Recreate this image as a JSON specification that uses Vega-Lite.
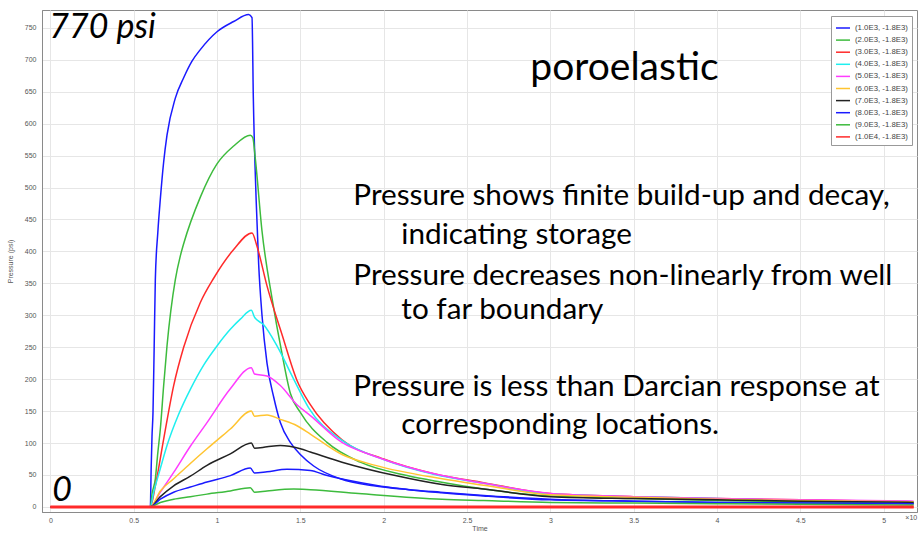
{
  "$schema": "https://vega.github.io/schema/vega-lite/v6.json",
  "width": 875,
  "height": 502,
  "autosize": {"type": "none"},
  "padding": {"left": 42, "top": 10, "right": 2, "bottom": 21},
  "background": "white",
  "config": {
    "view": {"stroke": "#8a8a8a", "strokeWidth": 1},
    "axis": {"labelFont": "Liberation Sans", "titleFont": "Liberation Sans", "labelFontSize": 7, "titleFontSize": 7, "labelColor": "#555555", "titleColor": "#555555", "titleFontWeight": "normal", "gridColor": "#e6e6e6", "domainColor": "#8a8a8a", "ticks": false, "labelOverlap": false},
    "axisY": {"labelOverlap": false},
    "axisQuantitative": {"labelOverlap": false},
    "text": {"font": "Lato", "align": "left", "baseline": "alphabetic", "color": "#000"}
  },
  "datasets": {
    "curves": [
      {"s":"(1.0E3, -1.8E3)","t":0,"p":0},{"s":"(1.0E3, -1.8E3)","t":0.6,"p":0},{"s":"(1.0E3, -1.8E3)","t":0.605,"p":60},{"s":"(1.0E3, -1.8E3)","t":0.61,"p":110},{"s":"(1.0E3, -1.8E3)","t":0.616,"p":148},{"s":"(1.0E3, -1.8E3)","t":0.623,"p":250},{"s":"(1.0E3, -1.8E3)","t":0.63,"p":356},{"s":"(1.0E3, -1.8E3)","t":0.645,"p":430},{"s":"(1.0E3, -1.8E3)","t":0.66,"p":482},{"s":"(1.0E3, -1.8E3)","t":0.68,"p":540},{"s":"(1.0E3, -1.8E3)","t":0.7,"p":582},{"s":"(1.0E3, -1.8E3)","t":0.75,"p":640},{"s":"(1.0E3, -1.8E3)","t":0.8,"p":672},{"s":"(1.0E3, -1.8E3)","t":0.85,"p":698},{"s":"(1.0E3, -1.8E3)","t":0.9,"p":716},{"s":"(1.0E3, -1.8E3)","t":1.0,"p":744},{"s":"(1.0E3, -1.8E3)","t":1.1,"p":760},{"s":"(1.0E3, -1.8E3)","t":1.19,"p":771},{"s":"(1.0E3, -1.8E3)","t":1.21,"p":766},{"s":"(1.0E3, -1.8E3)","t":1.218,"p":640},{"s":"(1.0E3, -1.8E3)","t":1.235,"p":480},{"s":"(1.0E3, -1.8E3)","t":1.25,"p":380},{"s":"(1.0E3, -1.8E3)","t":1.27,"p":300},{"s":"(1.0E3, -1.8E3)","t":1.3,"p":225},{"s":"(1.0E3, -1.8E3)","t":1.34,"p":172},{"s":"(1.0E3, -1.8E3)","t":1.38,"p":132},{"s":"(1.0E3, -1.8E3)","t":1.44,"p":101},{"s":"(1.0E3, -1.8E3)","t":1.5,"p":82},{"s":"(1.0E3, -1.8E3)","t":1.58,"p":64},{"s":"(1.0E3, -1.8E3)","t":1.74,"p":44},{"s":"(1.0E3, -1.8E3)","t":1.94,"p":33},{"s":"(1.0E3, -1.8E3)","t":2.15,"p":27},{"s":"(1.0E3, -1.8E3)","t":2.34,"p":23},{"s":"(1.0E3, -1.8E3)","t":2.6,"p":18},{"s":"(1.0E3, -1.8E3)","t":3.0,"p":12},{"s":"(1.0E3, -1.8E3)","t":3.5,"p":9},{"s":"(1.0E3, -1.8E3)","t":4.0,"p":7},{"s":"(1.0E3, -1.8E3)","t":4.5,"p":6},{"s":"(1.0E3, -1.8E3)","t":5.18,"p":5},

      {"s":"(2.0E3, -1.8E3)","t":0,"p":0},{"s":"(2.0E3, -1.8E3)","t":0.6,"p":0},{"s":"(2.0E3, -1.8E3)","t":0.61,"p":20},{"s":"(2.0E3, -1.8E3)","t":0.63,"p":44},{"s":"(2.0E3, -1.8E3)","t":0.645,"p":85},{"s":"(2.0E3, -1.8E3)","t":0.66,"p":122},{"s":"(2.0E3, -1.8E3)","t":0.68,"p":190},{"s":"(2.0E3, -1.8E3)","t":0.7,"p":252},{"s":"(2.0E3, -1.8E3)","t":0.75,"p":356},{"s":"(2.0E3, -1.8E3)","t":0.78,"p":393},{"s":"(2.0E3, -1.8E3)","t":0.8,"p":412},{"s":"(2.0E3, -1.8E3)","t":0.9,"p":485},{"s":"(2.0E3, -1.8E3)","t":1.0,"p":537},{"s":"(2.0E3, -1.8E3)","t":1.1,"p":565},{"s":"(2.0E3, -1.8E3)","t":1.2,"p":582},{"s":"(2.0E3, -1.8E3)","t":1.215,"p":578},{"s":"(2.0E3, -1.8E3)","t":1.23,"p":545},{"s":"(2.0E3, -1.8E3)","t":1.27,"p":432},{"s":"(2.0E3, -1.8E3)","t":1.33,"p":327},{"s":"(2.0E3, -1.8E3)","t":1.39,"p":240},{"s":"(2.0E3, -1.8E3)","t":1.44,"p":178},{"s":"(2.0E3, -1.8E3)","t":1.5,"p":148},{"s":"(2.0E3, -1.8E3)","t":1.66,"p":101},{"s":"(2.0E3, -1.8E3)","t":1.86,"p":70},{"s":"(2.0E3, -1.8E3)","t":2.14,"p":49},{"s":"(2.0E3, -1.8E3)","t":2.34,"p":39},{"s":"(2.0E3, -1.8E3)","t":2.6,"p":28},{"s":"(2.0E3, -1.8E3)","t":3.0,"p":17},{"s":"(2.0E3, -1.8E3)","t":3.5,"p":13},{"s":"(2.0E3, -1.8E3)","t":4.0,"p":10},{"s":"(2.0E3, -1.8E3)","t":4.5,"p":8},{"s":"(2.0E3, -1.8E3)","t":5.18,"p":6},

      {"s":"(3.0E3, -1.8E3)","t":0,"p":0},{"s":"(3.0E3, -1.8E3)","t":0.6,"p":0},{"s":"(3.0E3, -1.8E3)","t":0.63,"p":33},{"s":"(3.0E3, -1.8E3)","t":0.68,"p":106},{"s":"(3.0E3, -1.8E3)","t":0.74,"p":190},{"s":"(3.0E3, -1.8E3)","t":0.8,"p":250},{"s":"(3.0E3, -1.8E3)","t":0.9,"p":320},{"s":"(3.0E3, -1.8E3)","t":0.98,"p":358},{"s":"(3.0E3, -1.8E3)","t":1.1,"p":403},{"s":"(3.0E3, -1.8E3)","t":1.21,"p":429},{"s":"(3.0E3, -1.8E3)","t":1.24,"p":408},{"s":"(3.0E3, -1.8E3)","t":1.3,"p":346},{"s":"(3.0E3, -1.8E3)","t":1.39,"p":270},{"s":"(3.0E3, -1.8E3)","t":1.48,"p":198},{"s":"(3.0E3, -1.8E3)","t":1.56,"p":160},{"s":"(3.0E3, -1.8E3)","t":1.75,"p":105},{"s":"(3.0E3, -1.8E3)","t":2.0,"p":75},{"s":"(3.0E3, -1.8E3)","t":2.3,"p":52},{"s":"(3.0E3, -1.8E3)","t":2.6,"p":38},{"s":"(3.0E3, -1.8E3)","t":3.0,"p":21},{"s":"(3.0E3, -1.8E3)","t":3.5,"p":16},{"s":"(3.0E3, -1.8E3)","t":4.0,"p":13},{"s":"(3.0E3, -1.8E3)","t":4.5,"p":11},{"s":"(3.0E3, -1.8E3)","t":5.18,"p":8},

      {"s":"(4.0E3, -1.8E3)","t":0,"p":0},{"s":"(4.0E3, -1.8E3)","t":0.6,"p":0},{"s":"(4.0E3, -1.8E3)","t":0.62,"p":23},{"s":"(4.0E3, -1.8E3)","t":0.66,"p":60},{"s":"(4.0E3, -1.8E3)","t":0.7,"p":96},{"s":"(4.0E3, -1.8E3)","t":0.77,"p":145},{"s":"(4.0E3, -1.8E3)","t":0.84,"p":184},{"s":"(4.0E3, -1.8E3)","t":0.92,"p":222},{"s":"(4.0E3, -1.8E3)","t":1.0,"p":252},{"s":"(4.0E3, -1.8E3)","t":1.08,"p":278},{"s":"(4.0E3, -1.8E3)","t":1.14,"p":294},{"s":"(4.0E3, -1.8E3)","t":1.206,"p":308},{"s":"(4.0E3, -1.8E3)","t":1.225,"p":297},{"s":"(4.0E3, -1.8E3)","t":1.28,"p":285},{"s":"(4.0E3, -1.8E3)","t":1.36,"p":252},{"s":"(4.0E3, -1.8E3)","t":1.46,"p":200},{"s":"(4.0E3, -1.8E3)","t":1.55,"p":155},{"s":"(4.0E3, -1.8E3)","t":1.75,"p":104},{"s":"(4.0E3, -1.8E3)","t":2.0,"p":74},{"s":"(4.0E3, -1.8E3)","t":2.3,"p":51},{"s":"(4.0E3, -1.8E3)","t":2.6,"p":37},{"s":"(4.0E3, -1.8E3)","t":3.0,"p":20},{"s":"(4.0E3, -1.8E3)","t":3.5,"p":16},{"s":"(4.0E3, -1.8E3)","t":4.0,"p":13},{"s":"(4.0E3, -1.8E3)","t":4.5,"p":10},{"s":"(4.0E3, -1.8E3)","t":5.18,"p":8},

      {"s":"(5.0E3, -1.8E3)","t":0,"p":0},{"s":"(5.0E3, -1.8E3)","t":0.6,"p":0},{"s":"(5.0E3, -1.8E3)","t":0.66,"p":23},{"s":"(5.0E3, -1.8E3)","t":0.74,"p":54},{"s":"(5.0E3, -1.8E3)","t":0.84,"p":95},{"s":"(5.0E3, -1.8E3)","t":0.94,"p":132},{"s":"(5.0E3, -1.8E3)","t":1.08,"p":185},{"s":"(5.0E3, -1.8E3)","t":1.206,"p":218},{"s":"(5.0E3, -1.8E3)","t":1.225,"p":208},{"s":"(5.0E3, -1.8E3)","t":1.3,"p":205},{"s":"(5.0E3, -1.8E3)","t":1.38,"p":190},{"s":"(5.0E3, -1.8E3)","t":1.48,"p":160},{"s":"(5.0E3, -1.8E3)","t":1.56,"p":143},{"s":"(5.0E3, -1.8E3)","t":1.75,"p":101},{"s":"(5.0E3, -1.8E3)","t":1.95,"p":79},{"s":"(5.0E3, -1.8E3)","t":2.35,"p":49},{"s":"(5.0E3, -1.8E3)","t":2.6,"p":37},{"s":"(5.0E3, -1.8E3)","t":3.0,"p":21},{"s":"(5.0E3, -1.8E3)","t":3.5,"p":16},{"s":"(5.0E3, -1.8E3)","t":4.0,"p":13},{"s":"(5.0E3, -1.8E3)","t":4.5,"p":11},{"s":"(5.0E3, -1.8E3)","t":5.18,"p":9},

      {"s":"(6.0E3, -1.8E3)","t":0,"p":0},{"s":"(6.0E3, -1.8E3)","t":0.6,"p":0},{"s":"(6.0E3, -1.8E3)","t":0.66,"p":25},{"s":"(6.0E3, -1.8E3)","t":0.74,"p":44},{"s":"(6.0E3, -1.8E3)","t":0.84,"p":68},{"s":"(6.0E3, -1.8E3)","t":0.94,"p":91},{"s":"(6.0E3, -1.8E3)","t":1.08,"p":122},{"s":"(6.0E3, -1.8E3)","t":1.206,"p":150},{"s":"(6.0E3, -1.8E3)","t":1.225,"p":142},{"s":"(6.0E3, -1.8E3)","t":1.3,"p":144},{"s":"(6.0E3, -1.8E3)","t":1.38,"p":137},{"s":"(6.0E3, -1.8E3)","t":1.48,"p":127},{"s":"(6.0E3, -1.8E3)","t":1.56,"p":114},{"s":"(6.0E3, -1.8E3)","t":1.75,"p":82},{"s":"(6.0E3, -1.8E3)","t":1.95,"p":65},{"s":"(6.0E3, -1.8E3)","t":2.35,"p":44},{"s":"(6.0E3, -1.8E3)","t":2.6,"p":34},{"s":"(6.0E3, -1.8E3)","t":3.0,"p":19},{"s":"(6.0E3, -1.8E3)","t":3.5,"p":15},{"s":"(6.0E3, -1.8E3)","t":4.0,"p":12},{"s":"(6.0E3, -1.8E3)","t":4.5,"p":10},{"s":"(6.0E3, -1.8E3)","t":5.18,"p":8},

      {"s":"(7.0E3, -1.8E3)","t":0,"p":0},{"s":"(7.0E3, -1.8E3)","t":0.6,"p":0},{"s":"(7.0E3, -1.8E3)","t":0.66,"p":16},{"s":"(7.0E3, -1.8E3)","t":0.74,"p":33},{"s":"(7.0E3, -1.8E3)","t":0.84,"p":48},{"s":"(7.0E3, -1.8E3)","t":0.94,"p":65},{"s":"(7.0E3, -1.8E3)","t":1.08,"p":83},{"s":"(7.0E3, -1.8E3)","t":1.206,"p":100},{"s":"(7.0E3, -1.8E3)","t":1.225,"p":92},{"s":"(7.0E3, -1.8E3)","t":1.3,"p":94},{"s":"(7.0E3, -1.8E3)","t":1.38,"p":96},{"s":"(7.0E3, -1.8E3)","t":1.5,"p":91},{"s":"(7.0E3, -1.8E3)","t":1.56,"p":86},{"s":"(7.0E3, -1.8E3)","t":1.75,"p":70},{"s":"(7.0E3, -1.8E3)","t":2.07,"p":49},{"s":"(7.0E3, -1.8E3)","t":2.35,"p":35},{"s":"(7.0E3, -1.8E3)","t":2.6,"p":28},{"s":"(7.0E3, -1.8E3)","t":3.0,"p":16},{"s":"(7.0E3, -1.8E3)","t":3.5,"p":13},{"s":"(7.0E3, -1.8E3)","t":4.0,"p":11},{"s":"(7.0E3, -1.8E3)","t":4.5,"p":9},{"s":"(7.0E3, -1.8E3)","t":5.18,"p":7},

      {"s":"(8.0E3, -1.8E3)","t":0,"p":0},{"s":"(8.0E3, -1.8E3)","t":0.6,"p":0},{"s":"(8.0E3, -1.8E3)","t":0.66,"p":12},{"s":"(8.0E3, -1.8E3)","t":0.74,"p":23},{"s":"(8.0E3, -1.8E3)","t":0.84,"p":31},{"s":"(8.0E3, -1.8E3)","t":0.94,"p":39},{"s":"(8.0E3, -1.8E3)","t":1.08,"p":49},{"s":"(8.0E3, -1.8E3)","t":1.2,"p":61},{"s":"(8.0E3, -1.8E3)","t":1.225,"p":53},{"s":"(8.0E3, -1.8E3)","t":1.3,"p":55},{"s":"(8.0E3, -1.8E3)","t":1.42,"p":59},{"s":"(8.0E3, -1.8E3)","t":1.56,"p":57},{"s":"(8.0E3, -1.8E3)","t":1.65,"p":50},{"s":"(8.0E3, -1.8E3)","t":1.95,"p":34},{"s":"(8.0E3, -1.8E3)","t":2.35,"p":22},{"s":"(8.0E3, -1.8E3)","t":2.6,"p":17},{"s":"(8.0E3, -1.8E3)","t":3.0,"p":11},{"s":"(8.0E3, -1.8E3)","t":3.5,"p":9},{"s":"(8.0E3, -1.8E3)","t":4.0,"p":7},{"s":"(8.0E3, -1.8E3)","t":4.5,"p":6},{"s":"(8.0E3, -1.8E3)","t":5.18,"p":5},

      {"s":"(9.0E3, -1.8E3)","t":0,"p":0},{"s":"(9.0E3, -1.8E3)","t":0.6,"p":0},{"s":"(9.0E3, -1.8E3)","t":0.66,"p":7},{"s":"(9.0E3, -1.8E3)","t":0.74,"p":12},{"s":"(9.0E3, -1.8E3)","t":0.84,"p":16},{"s":"(9.0E3, -1.8E3)","t":0.94,"p":20},{"s":"(9.0E3, -1.8E3)","t":1.08,"p":25},{"s":"(9.0E3, -1.8E3)","t":1.2,"p":30},{"s":"(9.0E3, -1.8E3)","t":1.225,"p":23},{"s":"(9.0E3, -1.8E3)","t":1.3,"p":25},{"s":"(9.0E3, -1.8E3)","t":1.46,"p":28},{"s":"(9.0E3, -1.8E3)","t":1.56,"p":27},{"s":"(9.0E3, -1.8E3)","t":1.85,"p":21},{"s":"(9.0E3, -1.8E3)","t":2.35,"p":12},{"s":"(9.0E3, -1.8E3)","t":2.6,"p":10},{"s":"(9.0E3, -1.8E3)","t":3.0,"p":7},{"s":"(9.0E3, -1.8E3)","t":3.5,"p":6},{"s":"(9.0E3, -1.8E3)","t":4.0,"p":5},{"s":"(9.0E3, -1.8E3)","t":4.5,"p":4},{"s":"(9.0E3, -1.8E3)","t":5.18,"p":3},

      {"s":"(1.0E4, -1.8E3)","t":0,"p":0},{"s":"(1.0E4, -1.8E3)","t":1,"p":0},{"s":"(1.0E4, -1.8E3)","t":2,"p":0},{"s":"(1.0E4, -1.8E3)","t":3,"p":0},{"s":"(1.0E4, -1.8E3)","t":4,"p":0},{"s":"(1.0E4, -1.8E3)","t":5.18,"p":0}
    ]
  },
  "encoding": {
    "x": {"type": "quantitative", "scale": {"domain": [-0.05, 5.2], "nice": false, "zero": false},
          "axis": {"title": "Time", "values": [0,0.5,1,1.5,2,2.5,3,3.5,4,4.5,5], "format": "~g", "labelPadding": 4, "titlePadding": 1, "labelOverlap": false}},
    "y": {"type": "quantitative", "scale": {"domain": [-8, 778], "nice": false, "zero": false},
          "axis": {"title": "Pressure (psi)", "values": [0,50,100,150,200,250,300,350,400,450,500,550,600,650,700,750], "labelPadding": 6, "titlePadding": 11, "labelOverlap": false}}
  },
  "layer": [
    {
      "data": {"name": "curves"},
      "mark": {"type": "line", "strokeWidth": 1.5, "interpolate": "monotone"},
      "encoding": {
        "x": {"field": "t"},
        "y": {"field": "p"},
        "color": {"field": "s", "type": "nominal", "sort": null,
          "scale": {"domain": ["(1.0E3, -1.8E3)","(2.0E3, -1.8E3)","(3.0E3, -1.8E3)","(4.0E3, -1.8E3)","(5.0E3, -1.8E3)","(6.0E3, -1.8E3)","(7.0E3, -1.8E3)","(8.0E3, -1.8E3)","(9.0E3, -1.8E3)","(1.0E4, -1.8E3)"],
                    "range": ["#1a1aff","#3dbb3d","#ff2a2a","#1fefef","#ff3cff","#ffc430","#222222","#1a1aff","#3dbb3d","#ff2a2a"]},
          "legend": {"orient": "none", "legendX": 789, "legendY": 6, "title": null, "strokeColor": "#999", "fillColor": "#fff", "padding": 4, "symbolType": "stroke", "symbolSize": 196, "symbolStrokeWidth": 1.5, "labelFontSize": 7.8, "labelFont": "Liberation Sans", "labelColor": "#444", "rowPadding": 0.1, "labelOffset": 4}}
      }
    },
    {
      "data": {"name": "curves"},
      "transform": [{"filter": "datum.s === '(1.0E4, -1.8E3)'"}],
      "mark": {"type": "line", "strokeWidth": 3, "color": "#ff2a2a"},
      "encoding": {"x": {"field": "t"}, "y": {"field": "p"}}
    },
    {
      "data": {"values": [{}]},
      "layer": [
        {"mark": {"type": "text", "fontStyle": "italic", "fontSize": 34},
         "encoding": {"x": {"datum": -0.006}, "y": {"datum": 734}, "text": {"value": "770 psi"}}},
        {"mark": {"type": "text", "fontStyle": "italic", "fontSize": 34},
         "encoding": {"x": {"datum": 0.012}, "y": {"datum": 9}, "text": {"value": "0"}}},
        {"mark": {"type": "text", "fontSize": 39},
         "encoding": {"x": {"datum": 2.88}, "y": {"datum": 669}, "text": {"value": "poroelastic"}}},
        {"mark": {"type": "text", "fontSize": 29.7},
         "encoding": {"x": {"datum": 1.818}, "y": {"datum": 473}, "text": {"value": "Pressure shows finite build-up and decay,"}}},
        {"mark": {"type": "text", "fontSize": 29.7},
         "encoding": {"x": {"datum": 2.106}, "y": {"datum": 411}, "text": {"value": "indicating storage"}}},
        {"mark": {"type": "text", "fontSize": 29.7},
         "encoding": {"x": {"datum": 1.818}, "y": {"datum": 348}, "text": {"value": "Pressure decreases non-linearly from well"}}},
        {"mark": {"type": "text", "fontSize": 29.7},
         "encoding": {"x": {"datum": 2.106}, "y": {"datum": 294}, "text": {"value": "to far boundary"}}},
        {"mark": {"type": "text", "fontSize": 29.7},
         "encoding": {"x": {"datum": 1.818}, "y": {"datum": 173}, "text": {"value": "Pressure is less than Darcian response at"}}},
        {"mark": {"type": "text", "fontSize": 29.7},
         "encoding": {"x": {"datum": 2.106}, "y": {"datum": 114}, "text": {"value": "corresponding locations."}}},
        {"mark": {"type": "text", "baseline": "middle", "font": "Liberation Sans", "fontSize": 7, "color": "#555"},
         "encoding": {"x": {"datum": 5.13}, "y": {"datum": -17}, "text": {"value": "×10"}}}
      ]
    }
  ]
}
